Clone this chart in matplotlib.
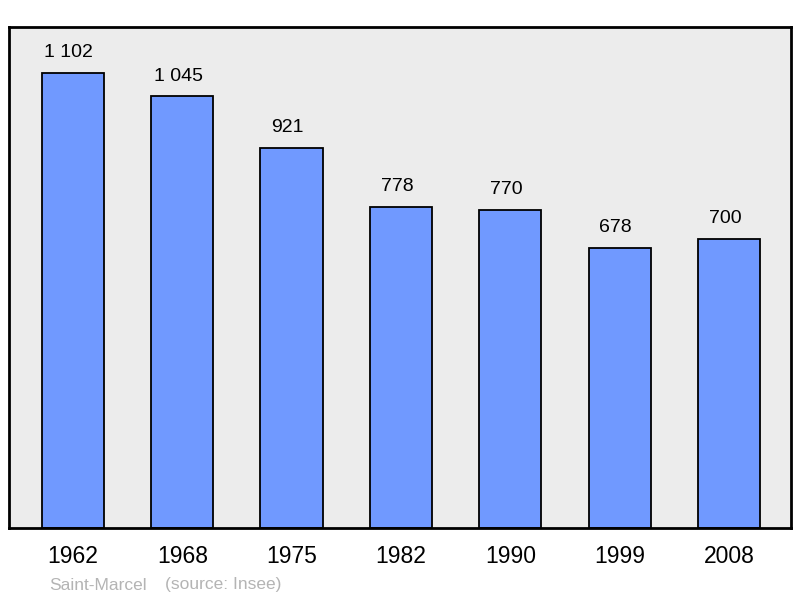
import matplotlib.pyplot as plt

plt.rcParams['font.family'] = ['Liberation Sans', 'DejaVu Sans']

# données de population
annees = ['1962', '1968', '1975', '1982', '1990', '1999', '2008']
population = [1102, 1045, 921, 778, 770, 678, 700]
etiquettes = ['1 102', '1 045', '921', '778', '770', '678', '700']

fig = plt.figure(figsize=(8, 5.98), dpi=100)
ax = fig.add_axes([9 / 800, 1 - 528 / 598, 782 / 800, 501 / 598])
ax.set_facecolor('#ececec')

x = range(len(annees))
bars = ax.bar(x, population, width=0.57, color='#7099ff', edgecolor='black', linewidth=1.3)

for b, lab in zip(bars, etiquettes):
    ax.annotate(lab, (b.get_x() + b.get_width() / 2, b.get_height()),
                xytext=(-3, 8.5), textcoords='offset points',
                ha='center', va='bottom', fontsize=14)

ax.set_xlim(-0.585, 6.567)
ax.set_ylim(0, 1213)
ax.set_xticks(list(x))
ax.set_xticklabels(annees, fontsize=16.5)
ax.tick_params(axis='x', length=0, pad=12.5)
ax.set_yticks([])
for s in ax.spines.values():
    s.set_linewidth(2)
    s.set_color('black')

fig.text(49 / 800, 1 - 585 / 598, 'Saint-Marcel', color='#b4b4b4', fontsize=12.5, va='center')
fig.text(165 / 800, 1 - 585 / 598, '(source: Insee)', color='#b4b4b4', fontsize=12.5, va='center')

plt.savefig('out.png')
plt.close()
